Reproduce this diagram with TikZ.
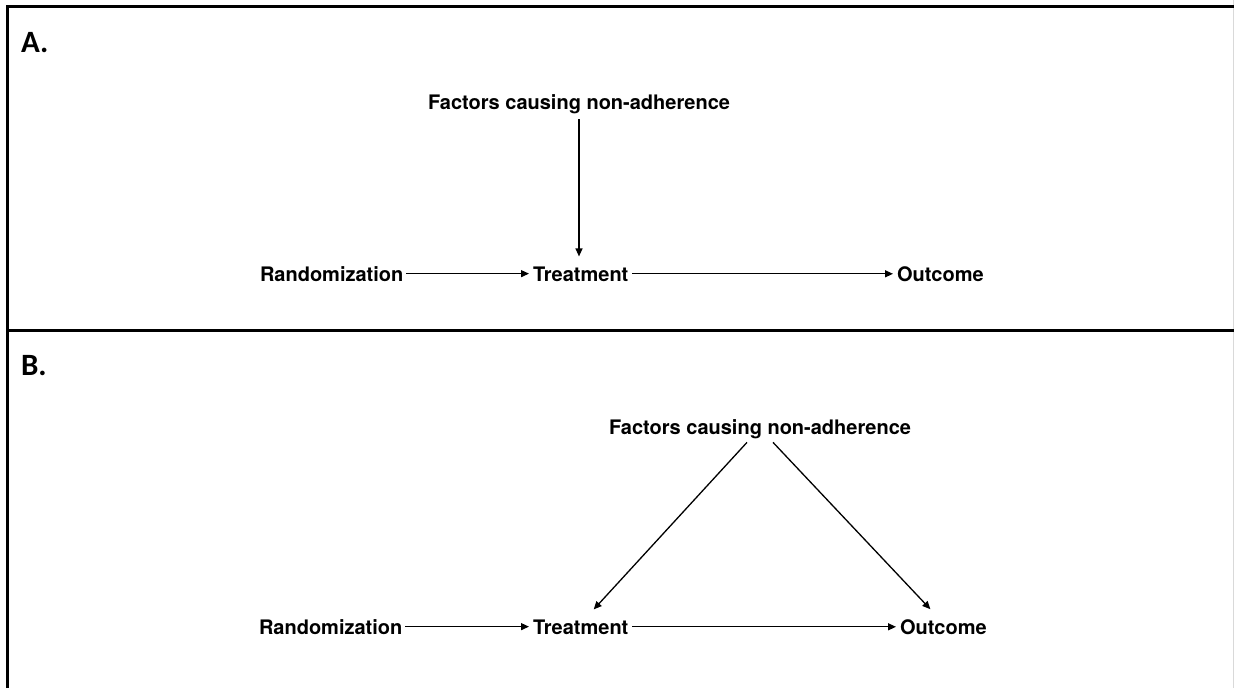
\documentclass[tikz,border=0pt]{standalone}
\usepackage{fontspec}
\setmainfont{TeX Gyre Heros}
\newfontfamily\panelfont{Carlito}
\usetikzlibrary{arrows.meta}
\begin{document}
\begin{tikzpicture}[x=1pt,y=-1pt,
  lbl/.style={inner sep=0pt,outer sep=0pt,font=\fontsize{20}{23}\selectfont\bfseries},
  panel/.style={inner sep=0pt,outer sep=0pt,anchor=base west,font=\panelfont\fontsize{31}{34}\selectfont\bfseries},
  frame/.style={line width=3pt,black},
  arr/.style={line width=1.3pt,-{Triangle[length=8pt,width=7pt]}}]
\useasboundingbox (0,0) rectangle (1234,688);
\fill[white] (0,0) rectangle (1234,688);
% frame
\draw[gray!30,line width=1pt] (1233.5,0) -- (1233.5,688);
\draw[frame] (7,688) -- (7,6) -- (1234,6);
\draw[frame] (7,330) -- (1234,330);
% panel labels
\node[panel] (pA) at (21,52) {A.};
\node[panel] (pB) at (21,375) {B.};
% panel A
\node[lbl,anchor=base] (fA) at (579,109) {Factors causing non-adherence};
\node[lbl,anchor=base west] (rA) at (260,281) {Randomization};
\node[lbl,anchor=base west] (tA) at (533,281) {Treatment};
\node[lbl,anchor=base west] (oA) at (897,281) {Outcome};
\draw[arr,shorten <=6pt,shorten >=10pt] (fA.south) -- (fA.south |- tA.north);
\draw[arr,shorten <=3pt,shorten >=4pt] (rA.east) -- (rA.east -| tA.west);
\draw[arr,shorten <=4pt,shorten >=4pt] (tA.east) -- (tA.east -| oA.west);
% panel B
\node[lbl,anchor=base] (fB) at (760,434) {Factors causing non-adherence};
\node[lbl,anchor=base west] (rB) at (259,634) {Randomization};
\node[lbl,anchor=base west] (tB) at (533,634) {Treatment};
\node[lbl,anchor=base west] (oB) at (900,634) {Outcome};
\draw[arr] ([xshift=-13pt,yshift=-4pt]fB.south) -- ([xshift=13pt,yshift=10pt]tB.north);
\draw[arr] ([xshift=13pt,yshift=-4pt]fB.south) -- ([xshift=-13pt,yshift=10pt]oB.north);
\draw[arr,shorten <=3pt,shorten >=4pt] (rB.east) -- (rB.east -| tB.west);
\draw[arr,shorten <=4pt,shorten >=4pt] (tB.east) -- (tB.east -| oB.west);
\end{tikzpicture}
\end{document}
